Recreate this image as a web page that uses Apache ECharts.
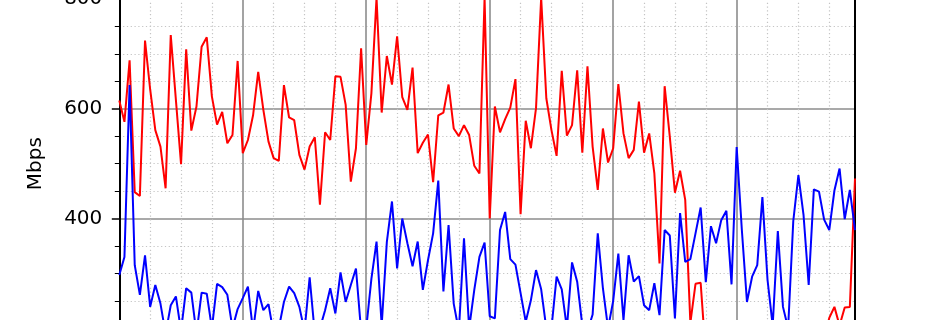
<!DOCTYPE html>
<html>
<head>
<meta charset="utf-8">
<script src="https://cdn.jsdelivr.net/npm/echarts@6/dist/echarts.min.js"></script>
<style>
html,body{margin:0;padding:0;background:#fff;}
#chart{width:950px;height:320px;}
</style>
</head>
<body>
<div id="chart"></div>
<script>
// ---- data ----
const yTickValues = [200, 400, 600, 800];
const yAxisTitle = 'Mbps';

const redValues = [
 615,576,688,448,441,724,635,561,531,455,734,616,499,708,560,604,713,730,622,571,594,537,552,687,
 519,543,588,667,598,540,510,505,643,584,579,516,489,531,548,425,557,543,659,658,607,467,528,710,
 534,628,802,593,696,644,732,621,598,675,519,538,553,466,588,593,644,564,550,570,552,496,482,802,
 400,604,557,581,602,654,408,578,528,601,802,619,561,514,669,551,570,670,520,677,531,452,564,502,
 528,645,555,510,525,613,520,555,482,318,641,549,447,487,434,210,281,283,150,160,145,170,155,140,
 165,150,175,160,145,155,170,150,140,165,180,160,150,170,155,175,190,180,219,239,205,238,239,473
];
const blueValues = [
 297,330,643,315,261,333,239,279,245,190,242,258,195,273,265,190,265,263,200,281,275,261,200,235,
 255,276,195,268,233,244,190,200,248,276,264,239,195,293,190,200,233,273,227,302,248,279,309,195,
 200,290,358,205,357,431,309,400,355,313,358,270,324,373,469,267,388,245,195,364,200,270,330,356,
 222,218,379,412,326,316,264,212,251,306,271,200,200,294,271,200,320,285,205,195,225,373,273,200,
 250,336,215,333,285,295,242,233,282,224,379,369,218,410,321,326,373,420,284,386,355,397,414,280,
 530,380,248,294,315,439,288,205,377,239,200,395,479,406,279,453,449,398,379,451,491,399,452,379
];
// x categories: 10-minute samples over one day
const categories = [];
for (let h = 0; h < 24; h++) {
  for (let m = 0; m < 60; m += 10) {
    categories.push(String(h).padStart(2,'0') + ':' + String(m).padStart(2,'0'));
  }
}

const FONT = 'DejaVu Sans';
const chart = echarts.init(document.getElementById('chart'), null, {renderer:'canvas'});
chart.setOption({
  animation: false,
  backgroundColor: '#ffffff',
  grid: { left: 119.3, right: 95, top: -1.1, bottom: -8.3, containLabel: false, outerBoundsMode: 'none' },
  xAxis: [
    {
      type: 'category', data: categories, boundaryGap: false,
      axisLine: { show: false }, axisTick: { show: false }, axisLabel: { show: false },
      splitLine: { show: true, interval: (i) => i % 24 === 0,
        lineStyle: { color: '#8c8c8c', width: 1.6, type: 'solid' } }
    },
    {
      type: 'category', data: categories, boundaryGap: false, position: 'bottom',
      axisLine: { show: false }, axisTick: { show: false }, axisLabel: { show: false },
      splitLine: { show: true, interval: (i) => i % 6 === 0 && i % 24 !== 0,
        lineStyle: { color: '#c4c4c4', width: 1.2, type: [1.2, 2.6] } }
    }
  ],
  yAxis: [
    {
      type: 'value', min: yTickValues[0], max: yTickValues[yTickValues.length-1], interval: 200,
      name: yAxisTitle, nameLocation: 'middle', nameGap: 74,
      nameTextStyle: { fontFamily: FONT, fontSize: 20, color: '#000' },
      axisLine: { show: true, lineStyle: { color: '#000', width: 2 } },
      axisTick: { show: true, inside: false, length: 7.5, lineStyle: { color: '#000', width: 1.5 } },
      minorTick: { show: true, splitNumber: 4, length: 4.5, lineStyle: { color: '#000', width: 1 } },
      axisLabel: { show: true, margin: 17, fontFamily: FONT, fontSize: 20, color: '#000',
        formatter: (v) => (yTickValues.indexOf(v) > 0 ? String(v) : '') },
      splitLine: { show: true, lineStyle: { color: '#8c8c8c', width: 1.6, type: 'solid' } },
      minorSplitLine: { show: true, lineStyle: { color: '#c4c4c4', width: 1.2, type: [1.2, 2.6] } }
    },
    {
      type: 'value', position: 'right', min: yTickValues[0], max: yTickValues[yTickValues.length-1],
      axisLine: { show: true, lineStyle: { color: '#000', width: 2 } },
      axisTick: { show: false }, axisLabel: { show: false }, splitLine: { show: false }
    }
  ],
  series: [
    { type: 'line', data: redValues, xAxisIndex: 0, yAxisIndex: 0, showSymbol: false,
      lineStyle: { color: '#ff0000', width: 2 }, itemStyle: { color: '#ff0000' } },
    { type: 'line', data: blueValues, xAxisIndex: 0, yAxisIndex: 0, showSymbol: false,
      lineStyle: { color: '#0000ff', width: 2 }, itemStyle: { color: '#0000ff' } }
  ]
});
</script>
</body>
</html>
